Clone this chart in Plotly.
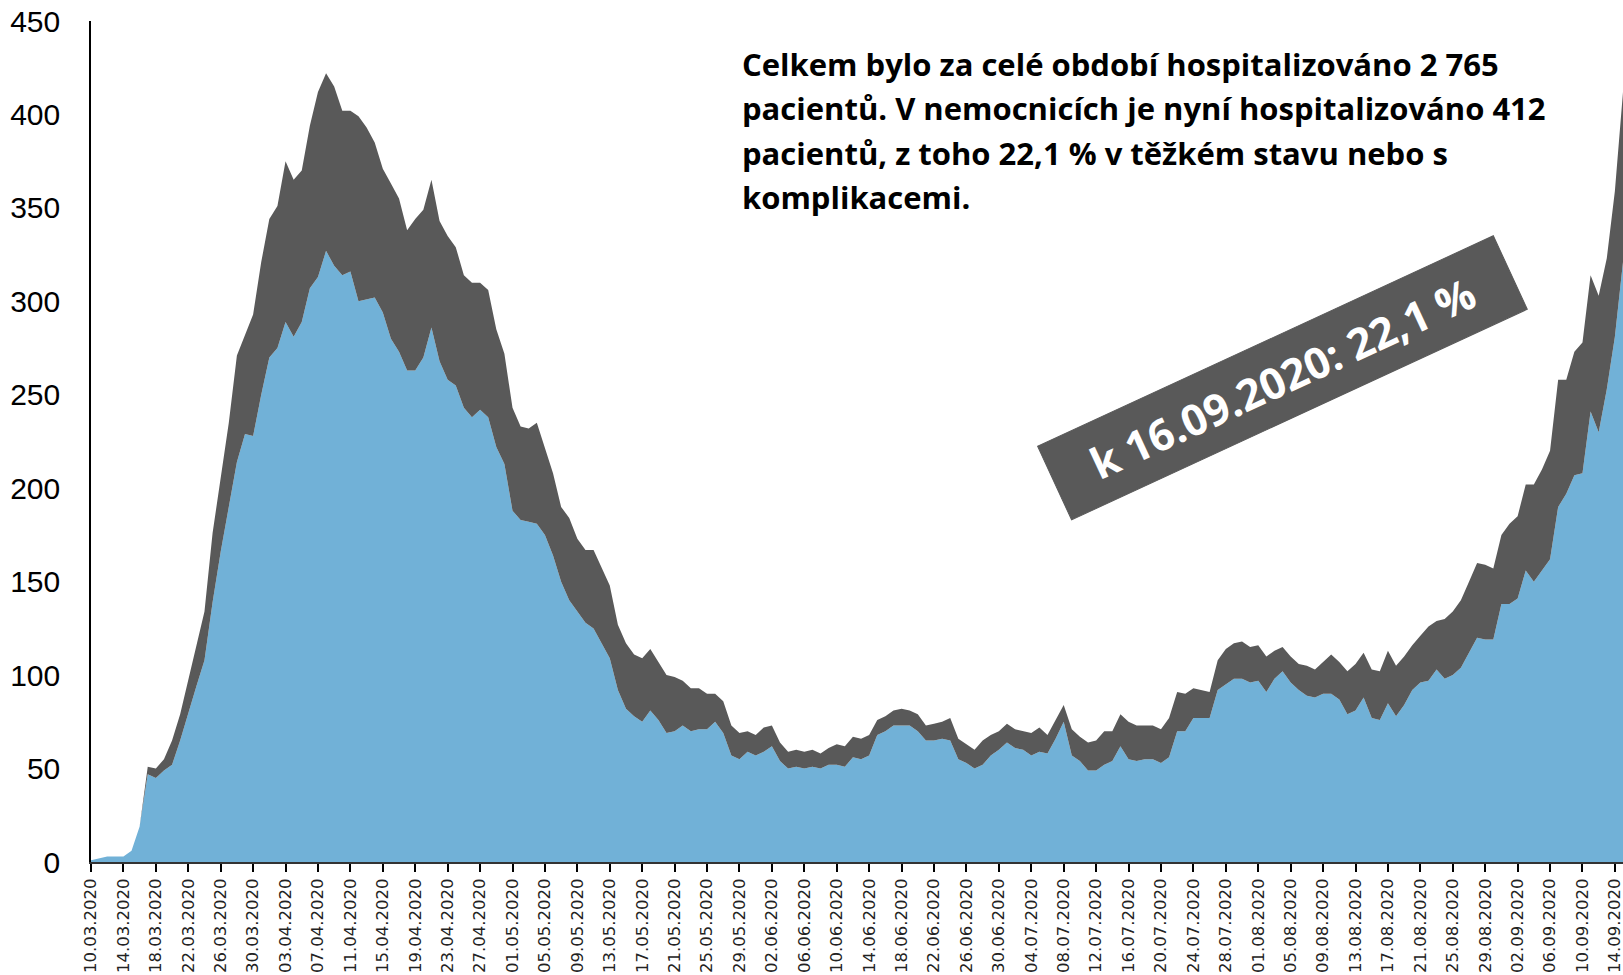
import pandas as pd
import plotly.graph_objects as go

# Dates 10.03.2020 - 15.09.2020 (category labels)
dates = [d.strftime("%d.%m.%Y") for d in pd.date_range("2020-03-10", "2020-09-15", freq="D")]
tick_labels = dates[::4]

# Hospitalised without severe condition (blue area)
mild = [
    1, 2, 3, 3, 3, 6, 19, 47, 45, 49,
    52, 65, 80, 94, 108, 139, 166, 190, 214, 229,
    228, 250, 270, 275, 289, 281, 289, 307, 313, 327,
    319, 314, 316, 300, 301, 302, 294, 280, 273, 263,
    263, 270, 286, 268, 258, 255, 243, 238, 242, 238,
    222, 213, 188, 183, 182, 181, 175, 164, 150, 140,
    134, 128, 125, 117, 109, 92, 82, 78, 75, 81,
    76, 69, 70, 73, 70, 71, 71, 75, 69, 57,
    55, 59, 57, 59, 62, 54, 50, 51, 50, 51,
    50, 52, 52, 51, 56, 55, 57, 68, 70, 73,
    73, 73, 70, 65, 65, 66, 65, 55, 53, 50,
    52, 57, 60, 64, 61, 60, 57, 59, 58, 66,
    75, 57, 54, 49, 49, 52, 54, 62, 55, 54,
    55, 55, 53, 56, 70, 70, 77, 77, 77, 92,
    95, 98, 98, 96, 97, 91, 98, 102, 96, 92,
    89, 88, 90, 90, 87, 79, 81, 88, 77, 76,
    85, 78, 84, 92, 96, 97, 103, 98, 100, 104,
    112, 120, 119, 119, 138, 138, 141, 156, 150, 156,
    162, 190, 197, 207, 208, 241, 230, 253, 281, 321,
]

# Total hospitalised (top of the dark area = mild + severe)
total = [
    1, 2, 3, 3, 3, 6, 19, 51, 50, 55,
    65, 79, 97, 115, 134, 176, 206, 235, 271, 282,
    293, 321, 344, 351, 375, 365, 370, 394, 412, 422,
    415, 402, 402, 399, 393, 385, 371, 363, 355, 338,
    344, 349, 365, 343, 335, 329, 314, 310, 310, 306,
    285, 272, 243, 233, 232, 235, 222, 208, 190, 184,
    173, 167, 167, 157, 148, 127, 117, 111, 109, 114,
    107, 100, 99, 97, 93, 93, 90, 90, 86, 73,
    69, 70, 68, 72, 73, 64, 59, 60, 59, 60,
    58, 61, 63, 62, 67, 66, 68, 76, 78, 81,
    82, 81, 79, 73, 74, 75, 77, 66, 63, 60,
    65, 68, 70, 74, 71, 70, 69, 72, 68, 76,
    84, 71, 67, 64, 65, 70, 70, 79, 75, 73,
    73, 73, 71, 77, 91, 90, 93, 92, 91, 108,
    114, 117, 118, 115, 116, 110, 113, 115, 110, 106,
    105, 103, 107, 111, 107, 102, 106, 112, 103, 102,
    113, 105, 110, 116, 121, 126, 129, 130, 134, 140,
    150, 160, 159, 157, 175, 181, 185, 202, 202, 210,
    220, 258, 258, 273, 278, 314, 303, 323, 359, 412,
]

y_ticks = list(range(0, 451, 50))

info_lines = [
    "Celkem bylo za celé období hospitalizováno 2 765",
    "pacientů. V nemocnicích je nyní hospitalizováno 412",
    "pacientů, z toho 22,1 % v těžkém stavu nebo s",
    "komplikacemi.",
]
banner_text = "k 16.09.2020: 22,1 %"

BLUE = "#71B1D7"
GREY = "#595959"

fig = go.Figure()
fig.add_trace(go.Scatter(
    x=dates, y=mild, mode="lines", fill="tozeroy", fillcolor=BLUE,
    line=dict(width=0, color=BLUE), showlegend=False, hoverinfo="skip"))
fig.add_trace(go.Scatter(
    x=dates, y=total, mode="lines", fill="tonexty", fillcolor=GREY,
    line=dict(width=0, color=GREY), showlegend=False, hoverinfo="skip"))

W, H = 1623, 975
ML, MR, MT, MB = 91, 0, 21, 113
pw, ph = W - ML - MR, H - MT - MB

annotations = []
line_y = [64, 108, 153, 197]
for txt, py in zip(info_lines, line_y):
    annotations.append(dict(
        text=txt, xref="paper", yref="paper",
        x=(740 - ML) / pw, y=(H - MB - py) / ph,
        xanchor="left", yanchor="middle", showarrow=False,
        font=dict(family="Open Sans", size=31, color="#000000", weight="bold")))

annotations.append(dict(
    text=banner_text, xref="paper", yref="paper",
    x=(1282 - ML) / pw, y=(H - MB - 378) / ph,
    xanchor="center", yanchor="middle", showarrow=False,
    textangle=-24.8, bgcolor=GREY, borderpad=5, borderwidth=1, bordercolor=GREY,
    width=491, height=70, align="center", valign="middle",
    font=dict(family="Open Sans", size=43, color="#FFFFFF", weight="bold")))

fig.update_layout(
    width=W, height=H,
    margin=dict(l=ML, r=MR, t=MT, b=MB, pad=0),
    paper_bgcolor="white", plot_bgcolor="white",
    annotations=annotations,
    xaxis=dict(
        type="category", range=[0, len(dates) - 1],
        tickmode="array", tickvals=tick_labels, ticktext=tick_labels,
        tickangle=-90, ticks="outside", ticklen=8, tickwidth=1.5, tickcolor="#000000",
        showline=True, linecolor="#333333", linewidth=2,
        showgrid=False, zeroline=False, automargin=False,
        tickfont=dict(family="DejaVu Sans", size=16.5, color="#222222")),
    yaxis=dict(
        range=[0, 450], tickmode="array", tickvals=y_ticks,
        showline=True, linecolor="#000000", linewidth=1.5,
        showgrid=False, zeroline=False, ticks="", automargin=False,
        ticklabelstandoff=23,
        tickfont=dict(family="Liberation Sans", size=30, color="#000000")),
)

fig.write_html(
    "out.html",
    config={"displayModeBar": False},
    post_script="document.body.style.margin='0px';document.body.style.overflow='hidden';")
